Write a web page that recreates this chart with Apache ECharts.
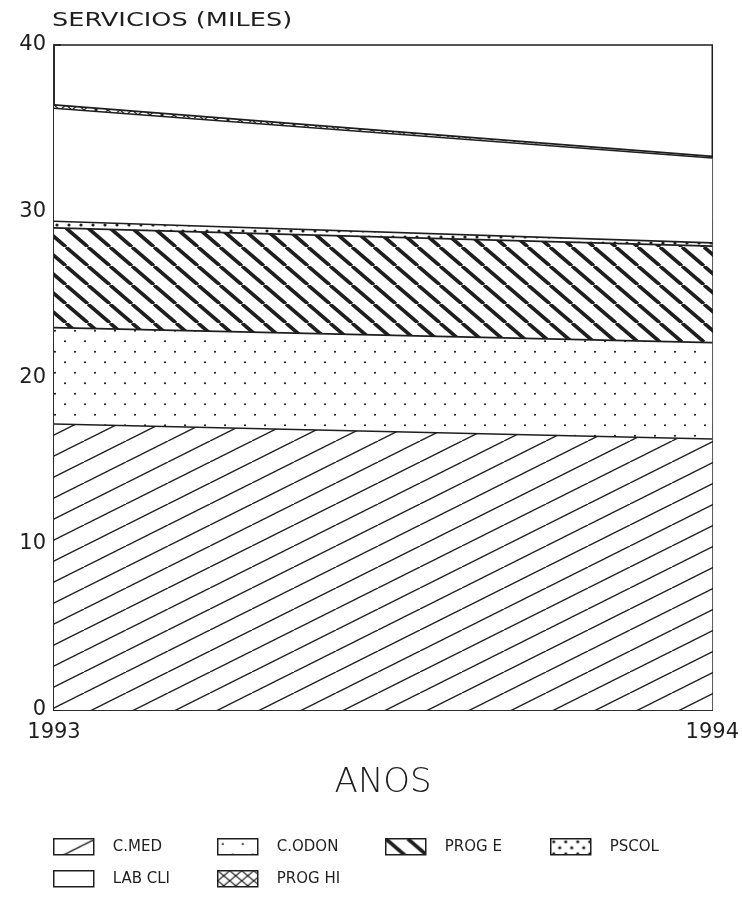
<!DOCTYPE html>
<html>
<head>
<meta charset="utf-8">
<script src="https://cdn.jsdelivr.net/npm/echarts@6/dist/echarts.min.js"></script>
<style>
html,body{margin:0;padding:0;background:#fff;}
#chart{width:742px;height:901px;}
</style>
</head>
<body>
<div id="chart"></div>
<script>
// ---- data ----
const categories = ['1993', '1994'];
const seriesNames = ['C.MED', 'C.ODON', 'PROG E', 'PSCOL', 'LAB CLI', 'PROG HI'];
const cMed   = [17.2, 16.3];
const cOdon  = [5.8, 5.8];
const progE  = [6.0, 5.8];
const pscol  = [0.4, 0.2];
const labCli = [6.8, 5.1];
const progHi = [0.2, 0.1];
const yTicks = [0, 10, 20, 30, 40];
const yTitle = 'SERVICIOS (MILES)';
const xTitle = 'ANOS';

// ---- patterns ----
const INK = '#1e1e1e';
function makeCanvas(w, h) {
  const c = document.createElement('canvas');
  c.width = w; c.height = h;
  const ctx = c.getContext('2d');
  ctx.fillStyle = '#fff';
  ctx.fillRect(0, 0, w, h);
  return [c, ctx];
}
function hatch(w, h, lw, dir) {
  const [c, ctx] = makeCanvas(w, h);
  ctx.strokeStyle = INK; ctx.lineWidth = lw;
  for (let k = -1; k <= 1; k++) {
    ctx.beginPath();
    if (dir === '/') { ctx.moveTo(k * w, h); ctx.lineTo(k * w + w, 0); }
    else { ctx.moveTo(k * w, 0); ctx.lineTo(k * w + w, h); }
    ctx.stroke();
  }
  return { image: c, repeat: 'repeat' };
}
function dots(w, h, r) {
  const [c, ctx] = makeCanvas(w, h);
  ctx.fillStyle = INK;
  [[w * 0.25, h * 0.25], [w * 0.75, h * 0.75]].forEach(p => {
    ctx.beginPath(); ctx.arc(p[0], p[1], r, 0, Math.PI * 2); ctx.fill();
  });
  return { image: c, repeat: 'repeat' };
}
function cross(w, h, lw) {
  const [c, ctx] = makeCanvas(w, h);
  ctx.strokeStyle = INK; ctx.lineWidth = lw;
  for (let k = -1; k <= 1; k++) {
    ctx.beginPath(); ctx.moveTo(k * w, h); ctx.lineTo(k * w + w, 0); ctx.stroke();
    ctx.beginPath(); ctx.moveTo(k * w, 0); ctx.lineTo(k * w + w, h); ctx.stroke();
  }
  return { image: c, repeat: 'repeat' };
}
function blank() {
  const [c] = makeCanvas(8, 8);
  return { image: c, repeat: 'repeat' };
}

const fills = [
  hatch(42, 21, 1.4, '/'),
  dots(20, 21, 1.1),
  hatch(22, 19, 3.6, '\\'),
  dots(12, 12, 1.6),
  blank(),
  cross(12, 10, 1.2)
];
const values = [cMed, cOdon, progE, pscol, labCli, progHi];

const FONT = 'DejaVu Sans';

const series = seriesNames.map((name, i) => ({
  name: name,
  type: 'line',
  stack: 'total',
  data: values[i],
  showSymbol: false,
  symbol: 'none',
  lineStyle: { color: INK, width: 1.6 },
  itemStyle: { color: INK },
  areaStyle: { color: fills[i], opacity: 1 },
  emphasis: { disabled: true },
  z: 2
}));

const legendPos = [
  [53, 838], [217, 838], [385, 838], [550, 838],
  [53, 870], [217, 870]
];
const legends = seriesNames.map((name, i) => ({
  data: [{ name: name, itemStyle: { color: fills[i], borderColor: INK, borderWidth: 1.5 } }],
  left: legendPos[i][0],
  top: legendPos[i][1],
  padding: 0,
  icon: 'rect',
  itemWidth: 40,
  itemHeight: 16,
  selectedMode: false,
  textStyle: { fontFamily: FONT, fontSize: 15, color: INK, padding: [0, 0, 0, 14] }
}));

const chart = echarts.init(document.getElementById('chart'), null, { renderer: 'canvas' });
chart.setOption({
  animation: false,
  backgroundColor: '#fff',
  grid: {
    left: 54, right: 29, top: 45, bottom: 191,
    show: true, borderColor: INK, borderWidth: 1.5, backgroundColor: 'transparent'
  },
  legend: legends,
  graphic: [{
    type: 'text',
    x: 52, y: 11,
    scaleX: 1.28,
    style: { text: yTitle, fontFamily: FONT, fontSize: 20, fill: INK, textVerticalAlign: 'top' }
  }],
  xAxis: {
    type: 'category',
    data: categories,
    boundaryGap: false,
    axisLine: { lineStyle: { color: INK, width: 1.5 } },
    axisTick: { show: false },
    axisLabel: { fontFamily: FONT, fontSize: 21, color: INK, margin: 12 },
    name: xTitle,
    nameLocation: 'middle',
    nameGap: 56,
    nameTextStyle: { fontFamily: FONT, fontSize: 34, fontWeight: 200, color: INK }
  },
  yAxis: {
    type: 'value',
    min: yTicks[0],
    max: yTicks[yTicks.length - 1],
    interval: 10,
    axisLine: { show: true, lineStyle: { color: INK, width: 1.5 } },
    axisTick: { show: true, inside: true, length: 7, lineStyle: { color: INK, width: 1.5 } },
    splitLine: { show: false },
    axisLabel: { fontFamily: FONT, fontSize: 21, color: INK, margin: 8 }
  },
  series: series
});
</script>
</body>
</html>
